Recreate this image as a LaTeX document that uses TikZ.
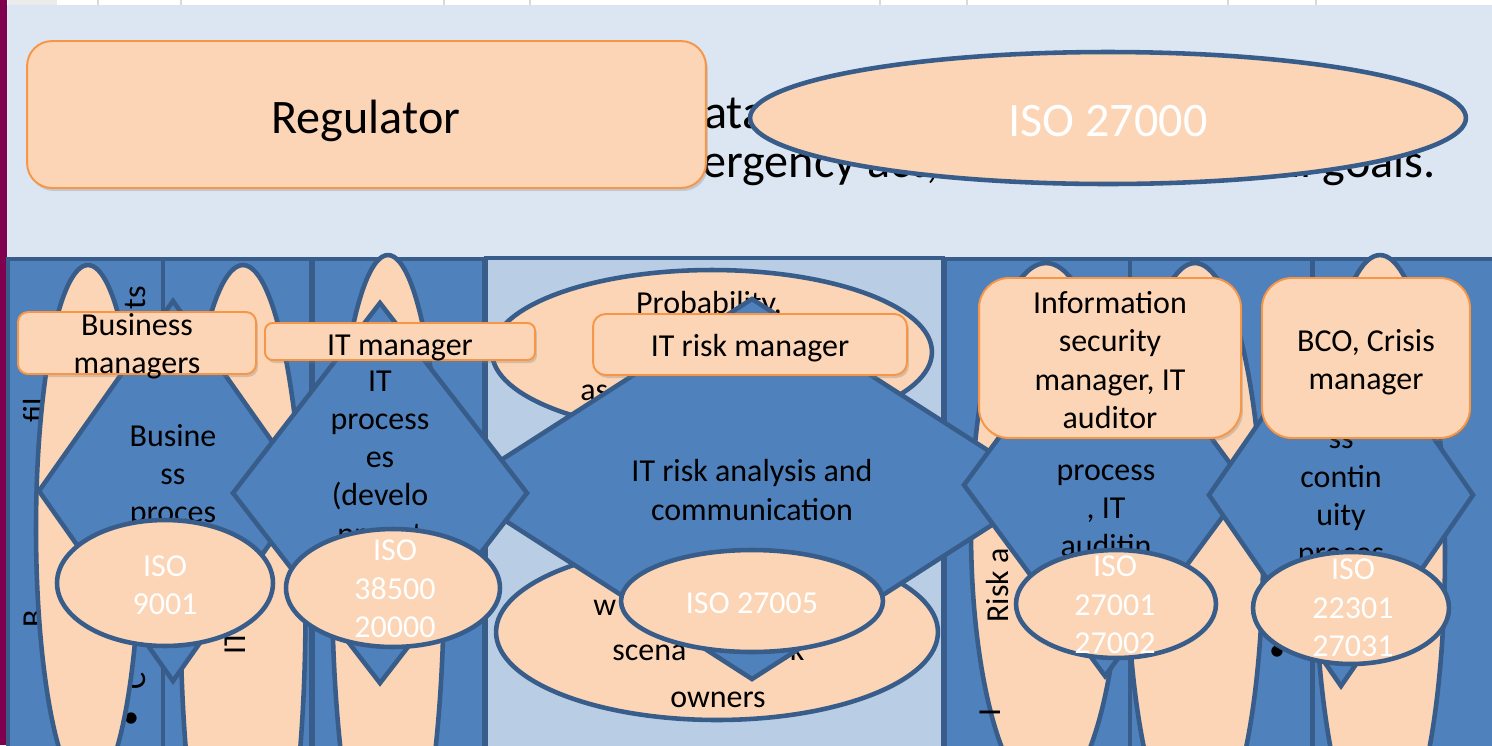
\documentclass[tikz,border=0pt]{standalone}
\usepackage{fontspec}
\setmainfont{Carlito}
\usetikzlibrary{shapes.geometric,shadows}

\definecolor{slidebg}{HTML}{DCE6F2}
\definecolor{colblue}{HTML}{4F81BD}
\definecolor{colline}{HTML}{385D8A}
\definecolor{paleblue}{HTML}{B9CDE5}
\definecolor{peach}{HTML}{FBD5B5}
\definecolor{orangeline}{HTML}{F79646}
\definecolor{barmagenta}{HTML}{800050}

\newcommand{\slidefont}{\fontsize{27.4}{31}\selectfont}
\newcommand{\shapefont}{\fontsize{18.2}{21.8}\selectfont}

\tikzset{
  colbox/.style={draw=colline, fill=colblue, line width=2.6pt},
  tallell/.style={ellipse, draw=colline, fill=peach, line width=2.6pt, inner sep=0pt},
  procdiam/.style={diamond, draw=colline, fill=colblue, line width=2.6pt, inner sep=0pt},
  isoell/.style={ellipse, draw=colline, fill=peach, line width=2.6pt, inner sep=0pt},
  isotext/.style={text=white, font=\shapefont, align=center, inner sep=0pt},
  celltext/.style={font=\shapefont, align=center, inner sep=0pt},
  sidetext/.style={font=\shapefont, rotate=90, inner sep=0pt, anchor=base west},
  slidetext/.style={font=\slidefont, inner sep=0pt},
  role/.style={draw=orangeline, fill=peach, line width=1.1pt, inner sep=0pt,
    drop shadow={shadow xshift=0.4mm, shadow yshift=-0.6mm, opacity=0.3}}
}

\begin{document}
\begin{tikzpicture}[x=0.02cm, y=-0.02cm]
  \path[use as bounding box, clip] (0,0) rectangle (1492,745);
  \fill[slidebg] (0,0) rectangle (1492,745);
  \fill[white] (0,0) rectangle (1492,5);
  \fill[black!8] (8,0) rectangle (57,5);
  \foreach \xx in {98,181,444,530,880,967,1228,1316}
    \draw[black!15, line width=0.6pt] (\xx,0) -- (\xx,5);
  \fill[barmagenta] (0,0) rectangle (7,745);

  \node[slidetext, anchor=base west] (ata) at (704,128) {ata};
  \node[slidetext, anchor=base west] (emergency) at (702,177) {ergency act,};
  \node[slidetext, anchor=base east] (goals) at (1436,177) {al goals.};

  \node[role, minimum width=13.58cm, minimum height=2.94cm, rounded corners=0.5cm]
    (regulator) at (366.5,114.5) {};
  \node[celltext, font=\slidefont] (regulatort) at (366,120.5) {Regulator};
  \node[isoell, minimum width=14.32cm, minimum height=2.64cm] (iso27000) at (1108,118) {};
  \node[isotext, font=\slidefont] (iso27000t) at (1108,121) {ISO 27000};

  \foreach \xa/\xb in {8/163,163/311,313/484,945/1130,1130/1312,1313/1500}
    \draw[colbox] (\xa,259) rectangle (\xb,760);
  \draw[colbox, fill=paleblue] (486,258) rectangle (943,760);

  \node[sidetext] (profile) at (45,423) {fil};
  \node[sidetext] (busi) at (44,628) {B};
  \node[sidetext] (listend) at (145,310) {ts};
  \node[sidetext] (liststart) at (145,690) {C};
  \node[celltext] (dotone) at (131,720) {\textbullet};
  \node[celltext] (dottwo) at (1277,653) {\textbullet};
  \node[celltext] (dotthree) at (1438,653) {\textbullet};

  \node[tallell, minimum width=2.08cm, minimum height=10.56cm] (e1) at (88,529) {};
  \node[tallell, minimum width=2.5cm, minimum height=13.8cm] (e2) at (243,610) {};
  \node[tallell, minimum width=2.24cm, minimum height=12.92cm] (e3) at (388,578) {};
  \node[tallell, minimum width=8.8cm, minimum height=3.28cm] (e4a) at (712,352) {};
  \node[tallell, minimum width=8.84cm, minimum height=3.52cm] (e4b) at (717,632) {};
  \node[tallell, minimum width=3.0cm, minimum height=10.72cm] (e5) at (1046,531) {};
  \node[tallell, minimum width=2.72cm, minimum height=11.68cm] (e6) at (1195,555) {};
  \node[tallell, minimum width=2.6cm, minimum height=11.96cm] (e7) at (1380,554) {};

  \node[sidetext] (e2t) at (245,655) {IT};
  \node[sidetext] (e5t) at (1008,623) {Risk a};
  \node[sidetext] (e5u) at (1000,717) {I};
  \node[celltext, anchor=base] (prob) at (709,313) {Probability,};
  \node[celltext, anchor=base west] (assess) at (580,400) {as};
  \node[celltext, anchor=base west] (with) at (593,615) {w};
  \node[celltext, anchor=base west] (scena) at (612,660) {scena};
  \node[celltext, anchor=base west] (risk) at (777,660) {sk};
  \node[celltext, anchor=base] (owners) at (718,707) {owners};

  \node[procdiam, minimum width=5.4cm, minimum height=7.64cm] (d1) at (173,491) {};
  \node[celltext] (d1t) at (173,476) {Busine\\ss\\proces};
  \node[procdiam, minimum width=11.88cm, minimum height=7.64cm] (d3) at (752,489) {};
  \node[celltext] (d3t) at (752,490) {IT risk analysis and\\communication};
  \node[procdiam, minimum width=5.92cm, minimum height=7.64cm] (d2) at (380,493) {};
  \node[celltext] (d2t) at (380,460) {IT\\process\\es\\(develo\\pment};
  \node[procdiam, minimum width=5.68cm, minimum height=7.68cm] (d5) at (1105,485) {};
  \node[celltext] (d5t) at (1106,511) {process\\, IT\\auditin};
  \node[procdiam, minimum width=5.32cm, minimum height=7.68cm] (d6) at (1341,495) {};
  \node[celltext] (d6t) at (1341,501) {ss\\contin\\uity\\proces};

  \node[isoell, minimum width=4.32cm, minimum height=2.52cm] (iso9001) at (165,583) {};
  \node[isotext] (iso9001t) at (165,585) {ISO\\9001};
  \node[isoell, minimum width=4.28cm, minimum height=2.36cm] (iso38500) at (393,588) {};
  \node[isotext] (iso38500t) at (395,589) {ISO\\38500\\20000};
  \node[isoell, minimum width=5.24cm, minimum height=2.04cm] (iso27005) at (752,601) {};
  \node[isotext] (iso27005t) at (752,603) {ISO 27005};
  \node[isoell, minimum width=4.0cm, minimum height=2.16cm] (iso27001) at (1116,604) {};
  \node[isotext] (iso27001t) at (1115,605) {ISO\\27001\\27002};
  \node[isoell, minimum width=3.92cm, minimum height=2.24cm] (iso22301) at (1351,608) {};
  \node[isotext] (iso22301t) at (1353,608) {ISO\\22301\\27031};

  \node[role, minimum width=4.76cm, minimum height=1.24cm, rounded corners=0.2cm]
    (bizmgr) at (137,343) {};
  \node[celltext] (bizmgrt) at (137,346) {Business\\managers};
  \node[role, minimum width=5.4cm, minimum height=0.74cm, rounded corners=0.15cm]
    (itmgr) at (400,341.5) {};
  \node[celltext] (itmgrt) at (400,347.5) {IT manager};
  \node[role, minimum width=6.28cm, minimum height=1.22cm, rounded corners=0.25cm]
    (itriskmgr) at (750,344.5) {};
  \node[celltext] (itriskmgrt) at (750,348.5) {IT risk manager};
  \node[role, minimum width=5.24cm, minimum height=3.2cm, rounded corners=0.6cm]
    (isecmgr) at (1110,358) {};
  \node[celltext] (isecmgrt) at (1110,360) {Information\\security\\manager, IT\\auditor};
  \node[role, minimum width=4.16cm, minimum height=3.2cm, rounded corners=0.6cm]
    (bcomgr) at (1366,358) {};
  \node[celltext] (bcomgrt) at (1366,362.5) {BCO, Crisis\\manager};
\end{tikzpicture}
\end{document}
